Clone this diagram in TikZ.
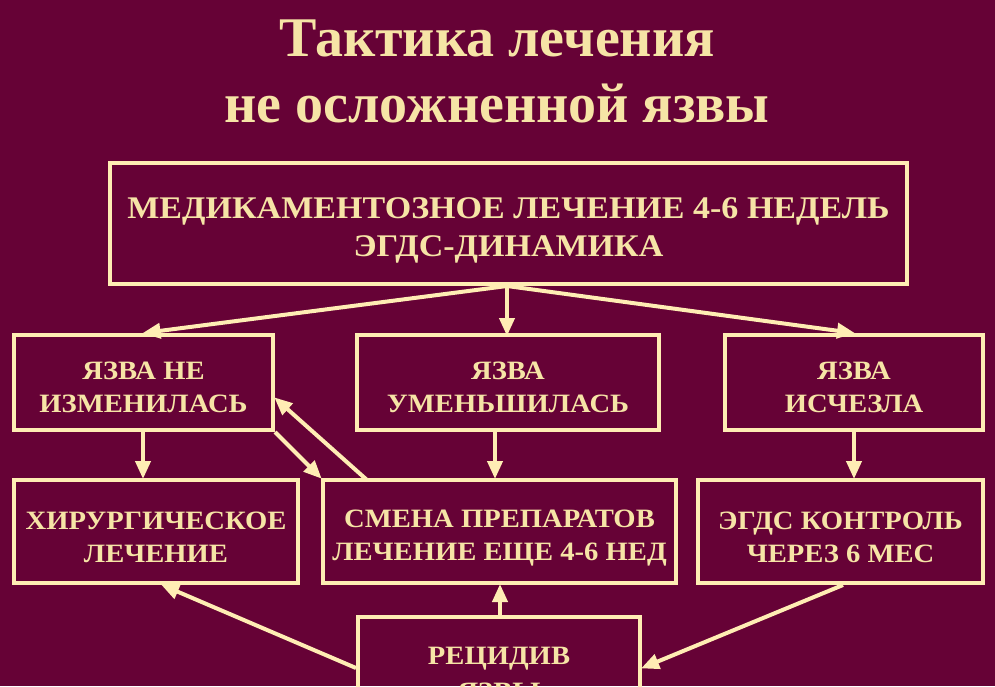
\documentclass[tikz,border=0pt]{standalone}
\usepackage{fontspec}
\setmainfont{Liberation Serif}
\newfontfamily\boxfont[FakeStretch=1.08]{Liberation Serif}
\usetikzlibrary{arrows.meta}
\definecolor{bg}{HTML}{660236}
\definecolor{ln}{HTML}{FFEDB4}
\definecolor{tx}{HTML}{F6E4A6}
\newcommand{\dnstrut}[1]{\rule{0pt}{#1}}
\tikzset{
  box/.style={draw=ln, line width=4pt, rectangle, inner sep=0pt, align=center,
    text=tx, font=\boxfont\bfseries\fontsize{26.5}{33}\selectfont},
  conn/.style={draw=ln, line width=4pt, -{Triangle[length=18pt,width=15pt]}, shorten >=-1pt},
  titletext/.style={text=tx, font=\bfseries\fontsize{56}{66}\selectfont, inner sep=0pt}
}
\begin{document}
\begin{tikzpicture}[x=1pt,y=-1pt]
\clip (0,0) rectangle (995,686);
\fill[bg] (0,0) rectangle (995,686);
\node[titletext] (t1) at (497,38) {Тактика лечения};
\node[titletext] (t2) at (497,103) {не осложненной язвы};
\node[box, minimum width=797pt, minimum height=121pt, font=\boxfont\bfseries\fontsize{31.5}{38}\selectfont] (top) at (508.5,223.5)
  {\dnstrut{34pt}МЕДИКАМЕНТОЗНОЕ ЛЕЧЕНИЕ 4-6 НЕДЕЛЬ\\ЭГДС-ДИНАМИКА};
\node[box, minimum width=259pt, minimum height=95pt] (l2) at (143.5,382.5) {\dnstrut{28pt}ЯЗВА НЕ\\ИЗМЕНИЛАСЬ};
\node[box, minimum width=302pt, minimum height=95pt] (m2) at (508,382.5) {\dnstrut{28pt}ЯЗВА\\УМЕНЬШИЛАСЬ};
\node[box, minimum width=258pt, minimum height=95pt] (r2) at (854,382.5) {\dnstrut{28pt}ЯЗВА\\ИСЧЕЗЛА};
\node[box, minimum width=284pt, minimum height=103pt] (l3) at (156,531.5) {\dnstrut{30pt}ХИРУРГИЧЕСКОЕ\\ЛЕЧЕНИЕ};
\node[box, minimum width=353pt, minimum height=103pt] (m3) at (499.5,531.5) {\dnstrut{30pt}СМЕНА ПРЕПАРАТОВ\\ЛЕЧЕНИЕ ЕЩЕ 4-6 НЕД};
\node[box, minimum width=285pt, minimum height=103pt] (r3) at (840.5,531.5) {\dnstrut{30pt}ЭГДС КОНТРОЛЬ\\ЧЕРЕЗ 6 МЕС};
\node[box, minimum width=282pt, minimum height=113pt, font=\boxfont\bfseries\fontsize{26.5}{36}\selectfont] (b) at (499,673.5) {РЕЦИДИВ\\ЯЗВЫ};
% fork from top box
\coordinate (fork) at (507,286);
\draw[conn] (fork) -- (l2.north);
\draw[conn] (fork) -- (507,335);
\draw[conn] (fork) -- (r2.north);
% verticals
\draw[conn] (l2.south -| 143,0) -- (l3.north -| 143,0);
\draw[conn] (m2.south -| 495,0) -- (m3.north -| 495,0);
\draw[conn] (r2.south -| 854,0) -- (r3.north -| 854,0);
% diagonals
\draw[conn] (l2.south east) -- (m3.north west);
\coordinate (dstart) at (367,480);
\draw[conn] (dstart) -- (l2.east |- 0,398);
% from recurrence
\draw[conn] (b.north -| 500,0) -- (m3.south -| 500,0);
\draw[conn] (b.west |- 0,668) -- (l3.south -| 162,0);
\draw[conn] (r3.south -| 843,0) -- (b.east |- 0,668);
\end{tikzpicture}
\end{document}
